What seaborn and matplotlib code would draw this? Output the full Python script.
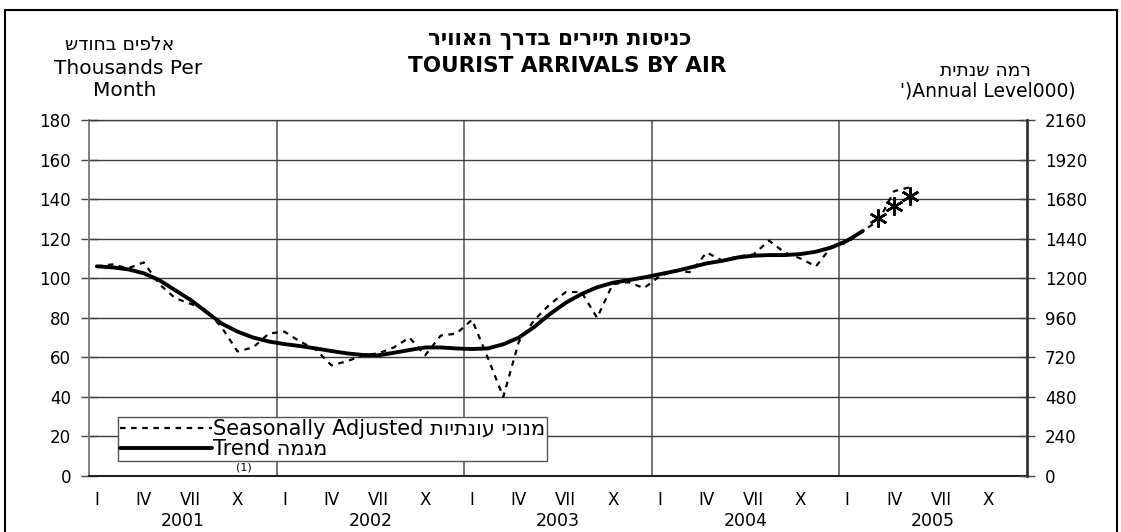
import matplotlib
matplotlib.use("Agg")
import matplotlib.pyplot as plt
import matplotlib.transforms as mtransforms
from matplotlib.lines import Line2D
from matplotlib.patches import Rectangle
import seaborn as sns
import numpy as np
import pandas as pd

# data (thousands per month)
years = ["2001", "2002", "2003", "2004", "2005"]
month_labels = ["I", "IV", "VII", "X"]

seasonally_adjusted = [
    106, 107, 105, 108, 97, 90, 87, 84, 75, 63, 65, 72,      # 2001
    73, 68, 64, 56, 58, 61, 62, 65, 70, 61, 71, 72,          # 2002
    79, 60, 40, 68, 79, 87, 93, 93, 80, 97, 98, 95,          # 2003
    101, 104, 103, 113, 109, 111, 112, 119, 113, 110, 106, 116,  # 2004
    118, 124, 129, 144, 146,                                 # 2005
]
trend = [
    106, 105.5, 104.5, 102.5, 99, 94, 89, 83, 77, 73, 70, 68,
    66.7, 65.7, 64.5, 63.2, 62, 61.2, 61, 62.3, 63.7, 65, 65, 64.5,
    64.2, 64.5, 66.6, 70, 75.5, 82, 87.6, 92, 95.4, 97.7, 99, 100.4,
    102, 103.6, 105.5, 107.5, 108.8, 110.5, 111.4, 111.7, 111.7, 112.2, 113.4, 115.6,
    119, 123.9,
]
trend_estimate = [130.3, 136.5, 141.6]   # Mar-May 2005
estimate_start = 50

left_ticks = [0, 20, 40, 60, 80, 100, 120, 140, 160, 180]
right_ticks = [0, 240, 480, 720, 960, 1200, 1440, 1680, 1920, 2160]

# hebrew strings (logical order), reversed for display since matplotlib has no bidi
title_he = "כניסות תיירים בדרך האוויר"
left_unit_he = "אלפים בחודש"
right_unit_he = "רמה שנתית"
sa_he = "מנוכי עונתיות"
trend_he = "מגמה"


def rtl(s):
    return s[::-1]


sns.set_style("white")
plt.rcParams["font.family"] = ["DejaVu Sans"]
plt.rcParams["text.color"] = "black"
plt.rcParams["xtick.color"] = "black"
plt.rcParams["ytick.color"] = "black"

W, H = 1121, 532
fig = plt.figure(figsize=(W / 100, H / 100), dpi=100)
ax = fig.add_axes([89 / W, 56 / H, 938 / W, 356 / H])

df_sa = pd.DataFrame({"month": np.arange(len(seasonally_adjusted)), "value": seasonally_adjusted})
df_tr = pd.DataFrame({"month": np.arange(len(trend)), "value": trend})
df_est = pd.DataFrame({"month": estimate_start + np.arange(len(trend_estimate)), "value": trend_estimate})

sns.lineplot(data=df_sa, x="month", y="value", ax=ax, color="black", lw=1.6,
             linestyle=(0, (2.5, 2.5)), legend=False)
sns.lineplot(data=df_tr, x="month", y="value", ax=ax, color="black", lw=2.8, legend=False)
sns.lineplot(data=df_est, x="month", y="value", ax=ax, color="black", linestyle="",
             marker=(6, 2, 0), markersize=13, markeredgewidth=1.8,
             markeredgecolor="black", markerfacecolor="black", legend=False)

ax.set_xlim(-0.5, 59.5)
ax.set_ylim(0, 180)
ax.set_yticks(left_ticks)
ax.set_xlabel("")
ax.set_ylabel("")

# month labels at quarter starts, small ticks at the year boundaries
ax.set_xticks([12 * k + m for k in range(len(years)) for m in (0, 3, 6, 9)])
ax.set_xticklabels(month_labels * len(years))
ax.set_xticks([12 * k - 0.5 for k in range(len(years) + 1)], minor=True)
ax.tick_params(axis="x", which="major", length=0, pad=11, labelsize=12)
ax.tick_params(axis="x", which="minor", length=6, width=1, color="#333333", direction="out")
ax.tick_params(axis="y", length=12, width=1, direction="inout", pad=7, labelsize=12,
               color="#444444")

ax.yaxis.grid(True, color="#3c3c3c", lw=1)
for k in range(1, len(years)):
    ax.axvline(12 * k - 0.5, color="#6a6a6a", lw=1.3, zorder=0.5)

# year labels: kept just inside the bottom edge
trans = mtransforms.blended_transform_factory(ax.transData, ax.transAxes)
for k, yr in enumerate(years):
    ax.text(12 * k + 5.5, -0.127, yr, transform=trans, ha="center", va="center", fontsize=12.5)

for side in ["left", "bottom", "top", "right"]:
    ax.spines[side].set_visible(True)
ax.spines["left"].set_color("#777777")
ax.spines["left"].set_linewidth(1.3)
ax.spines["bottom"].set_color("#222222")
ax.spines["bottom"].set_linewidth(1.5)
ax.spines["top"].set_color("#3c3c3c")
ax.spines["top"].set_linewidth(1)
ax.spines["right"].set_visible(False)

# right axis: annual level
ax2 = ax.twinx()
ax2.set_ylim(0, 2160)
ax2.set_yticks(right_ticks)
ax2.tick_params(axis="y", length=12, width=1, direction="inout", pad=7, labelsize=12,
                color="#444444")
for side in ["left", "bottom", "top"]:
    ax2.spines[side].set_visible(False)
ax2.spines["right"].set_color("#333333")
ax2.spines["right"].set_linewidth(2)

handles = [
    Line2D([], [], color="black", lw=1.6, linestyle=(0, (2.5, 2.5))),
    Line2D([], [], color="black", lw=2.8),
]
labels = ["Seasonally Adjusted " + rtl(sa_he), "Trend " + rtl(trend_he)]
leg = ax.legend(handles, labels, loc="lower left", bbox_to_anchor=(0.031, 0.042),
                borderaxespad=0, frameon=True, fancybox=False, fontsize=15,
                handlelength=4.4, handletextpad=0.05, borderpad=0.1, labelspacing=0.0)
leg.get_frame().set_edgecolor("#555555")
leg.get_frame().set_linewidth(1)
leg.get_frame().set_alpha(1)

# titles and unit labels
fig.text(560 / W, 1 - 40 / H, rtl(title_he), ha="center", va="center", fontsize=15.5,
         fontweight="bold")
fig.text(567 / W, 1 - 66 / H, "TOURIST ARRIVALS BY AIR", ha="center", va="center",
         fontsize=15.5, fontweight="bold")
fig.text(120 / W, 1 - 45 / H, rtl(left_unit_he), ha="center", va="center", fontsize=13.5)
fig.text(128 / W, 1 - 68 / H, "Thousands Per", ha="center", va="center", fontsize=14.5)
fig.text(125 / W, 1 - 90 / H, "Month", ha="center", va="center", fontsize=14.5)
fig.text(985 / W, 1 - 70 / H, rtl(right_unit_he), ha="center", va="center", fontsize=13.5)
fig.text(988 / W, 1 - 91 / H, "')Annual Level000)", ha="center", va="center", fontsize=13.5)
fig.text(244 / W, 1 - 468 / H, "(1)", ha="center", va="center", fontsize=8)

# outer frame, bottom edge falls outside the picture
fig.add_artist(Rectangle((5 / W, -0.05), 1112 / W, 1 - 10 / H + 0.05,
                         transform=fig.transFigure, fill=False, lw=1.5, ec="black"))

fig.savefig("out.png", dpi=100)
